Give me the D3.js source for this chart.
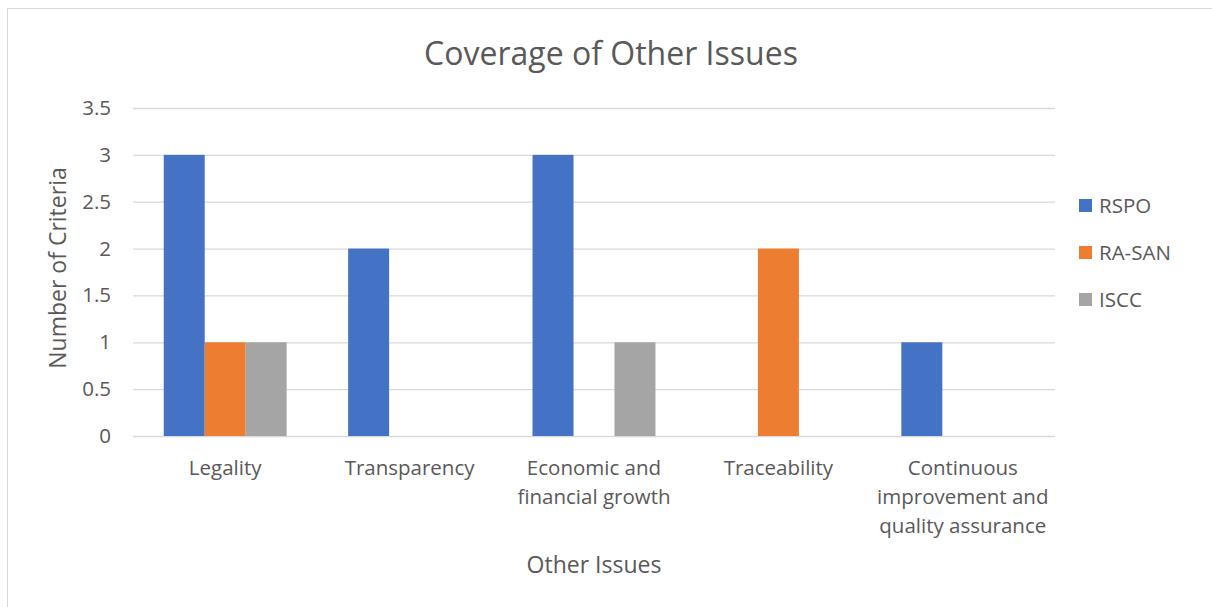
<!DOCTYPE html>
<html>
<head>
<meta charset="utf-8">
<script src="https://cdn.jsdelivr.net/npm/d3@7"></script>
<style>
  body { margin: 0; background: #fff; }
  text { font-family: "Open Sans", sans-serif; fill: #595959; }
</style>
</head>
<body>
<div id="chart"></div>
<script>
// data
const categories = [
  ['Legality'],
  ['Transparency'],
  ['Economic and', 'financial growth'],
  ['Traceability'],
  ['Continuous', 'improvement and', 'quality assurance'],
];
const seriesNames = ['RSPO', 'RA-SAN', 'ISCC'];
const rspo = [3, 2, 3, 0, 1];
const raSan = [1, 0, 0, 2, 0];
const iscc = [1, 0, 1, 0, 0];
const yTicks = [0, 0.5, 1, 1.5, 2, 2.5, 3, 3.5];
const colors = ['#4472C4', '#ED7D31', '#A5A5A5'];

const width = 1212;
const height = 607;
const margin = { top: 108, right: 157, bottom: 171, left: 133 };

const svg = d3.select('#chart')
  .append('svg')
  .attr('width', width)
  .attr('height', height);

// chart border
svg.append('rect')
  .attr('x', 7.5).attr('y', 8.5)
  .attr('width', width).attr('height', height)
  .attr('fill', '#fff')
  .attr('stroke', '#d9d9d9');

const x0 = d3.scaleBand()
  .domain(d3.range(categories.length))
  .range([margin.left, width - margin.right]);

// excel-style gap width of 150%
const barW = x0.bandwidth() / (seriesNames.length + 1.5);
const x1 = d3.scaleBand()
  .domain(seriesNames)
  .range([0, barW * seriesNames.length]);

const y = d3.scaleLinear()
  .domain([0, 3.5])
  .range([height - margin.bottom, margin.top]);

// gridlines + tick labels
const yAxis = svg.append('g')
  .attr('transform', `translate(${margin.left},0)`)
  .call(d3.axisLeft(y).tickValues(yTicks).tickFormat(d3.format('')).tickSize(-(width - margin.left - margin.right)).tickPadding(22));
yAxis.select('.domain').remove();
yAxis.selectAll('.tick line').attr('stroke', '#d9d9d9').attr('stroke-width', 1.3);
yAxis.selectAll('.tick text')
  .attr('fill', '#595959')
  .style('font-size', '20.5px')
  .style('font-family', '"Open Sans", sans-serif');

// bars
const data = [rspo, raSan, iscc];
const groups = svg.append('g')
  .selectAll('g')
  .data(categories)
  .join('g')
  .attr('transform', (d, i) => `translate(${x0(i) + (x0.bandwidth() - barW * seriesNames.length) / 2},0)`);

groups.selectAll('rect')
  .data((d, i) => seriesNames.map((s, j) => ({ s, j, v: data[j][i] })))
  .join('rect')
  .attr('x', (d) => x1(d.s))
  .attr('y', (d) => y(d.v))
  .attr('width', x1.bandwidth())
  .attr('height', (d) => y(0) - y(d.v))
  .attr('fill', (d) => colors[d.j]);

// category labels
const catLabels = svg.append('g')
  .selectAll('text')
  .data(categories)
  .join('text')
  .attr('text-anchor', 'middle')
  .attr('x', (d, i) => x0(i) + x0.bandwidth() / 2)
  .attr('y', 475)
  .style('font-size', '20.5px');
catLabels.selectAll('tspan')
  .data((d) => d)
  .join('tspan')
  .attr('x', function () { return this.parentNode.getAttribute('x'); })
  .attr('dy', (d, i) => (i === 0 ? 0 : 29))
  .text((d) => d);

// title
svg.append('text')
  .attr('x', 611)
  .attr('y', 65)
  .attr('text-anchor', 'middle')
  .style('font-size', '32px')
  .text('Coverage of Other Issues');

// axis titles
svg.append('text')
  .attr('x', 594)
  .attr('y', 573)
  .attr('text-anchor', 'middle')
  .style('font-size', '23px')
  .text('Other Issues');

svg.append('text')
  .attr('transform', 'translate(66,268) rotate(-90)')
  .attr('text-anchor', 'middle')
  .style('font-size', '23px')
  .text('Number of Criteria');

// legend
const legend = svg.append('g')
  .selectAll('g')
  .data(seriesNames)
  .join('g')
  .attr('transform', (d, i) => `translate(1079,${199 + i * 47})`);
legend.append('rect')
  .attr('width', 13).attr('height', 13)
  .attr('fill', (d, i) => colors[i]);
legend.append('text')
  .attr('x', 20)
  .attr('y', 14)
  .style('font-size', '20.5px')
  .text((d) => d);
</script>
</body>
</html>
